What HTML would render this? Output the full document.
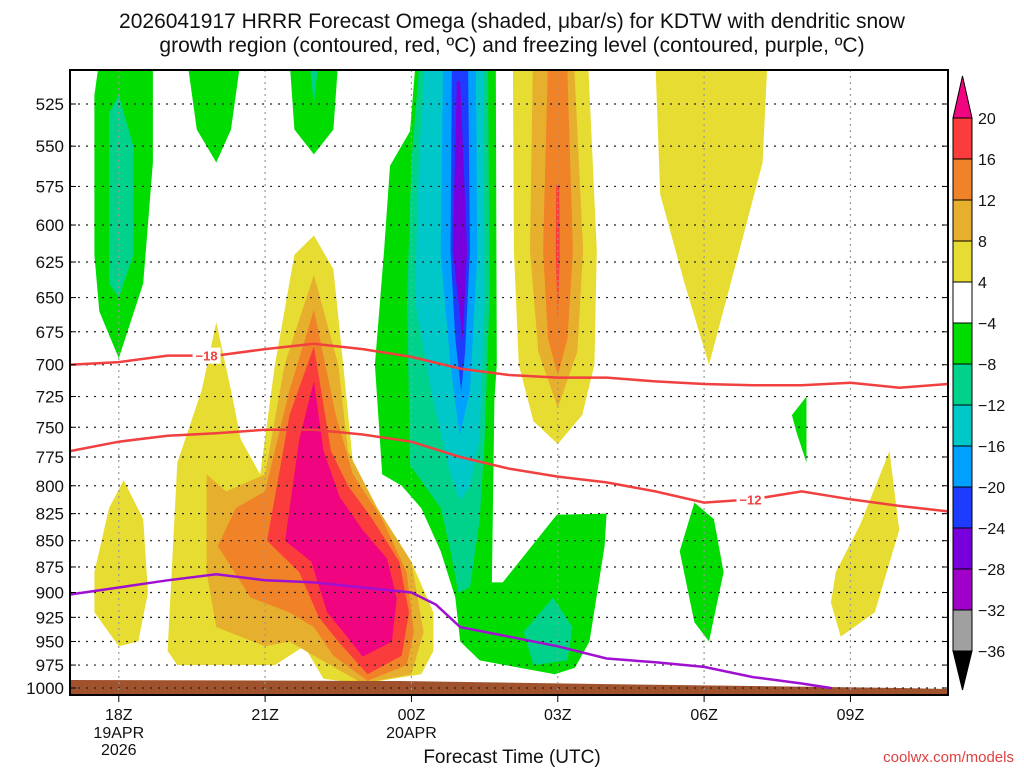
<!DOCTYPE html>
<html><head><meta charset="utf-8"><style>
body{margin:0;background:#fff;width:1024px;height:768px;overflow:hidden;font-family:"Liberation Sans",sans-serif}
svg text{font-family:"Liberation Sans","DejaVu Sans",sans-serif}
</style></head><body>
<svg id="chart" width="1024" height="768" xmlns="http://www.w3.org/2000/svg">
<g>
<text x="512" y="28" font-size="21" text-anchor="middle" fill="#111">2026041917 HRRR Forecast Omega (shaded, μbar/s) for KDTW with dendritic snow</text>
<text x="512" y="52" font-size="21" text-anchor="middle" fill="#111">growth region (contoured, red, ºC) and freezing level (contoured, purple, ºC)</text>
</g>
<g id="fills"></g>
<g id="grid"></g>
<g id="lines"></g>
<g id="axes"></g>
<g id="cbar"></g>
<text x="512" y="763" font-size="19" text-anchor="middle" fill="#111">Forecast Time (UTC)</text>
<text x="1014" y="762" font-size="15" text-anchor="end" fill="#e04040">coolwx.com/models</text>
</svg>
<script>
const pLevels=[525,550,575,600,625,650,675,700,725,750,775,800,825,850,875,900,925,950,975,1000];
const xTickHours=[18,21,24,27,30,33];
const xTickLabels=["18Z","21Z","00Z","03Z","06Z","09Z"];
const cbLevels=[20,16,12,8,4,-4,-8,-12,-16,-20,-24,-28,-32,-36];
const cbColors=["#f0047f","#fa3c3c","#f08228","#e6af2d","#e6dc32","#ffffff","#00dc00","#00d28c","#00c8c8","#00a0ff","#1e3cff","#7800dc","#a000c8","#a0a0a0","#000000"];
const tHours=[17,18,19,20,21,22,23,24,25,26,27,28,29,30,31,32,33,34,35];
const tMinus18=[700,698,693,693,688,684,688,694,703,708,710,710,713,715,716,716,714,718,715];
const tMinus12=[770,762,757,755,752,752,756,762,775,785,792,797,805,815,812,805,812,818,823];
const fzHours=[17,18,19,20,21,22,23,24,24.5,25,26,27,28,29,30,31,32,32.6];
const fzLevel=[902,895,888,882,888,890,895,900,912,935,945,955,968,972,977,988,995,1000];
// omega regions: [colorIndex, [[hour,hPa],...]]
const omegaRegions=[
[4,[[19.0,960],[19.2,780],[19.7,720],[20.0,668],[20.3,720],[20.5,760],[20.9,790],[21.2,700],[21.6,620],[22.0,607],[22.4,630],[22.6,700],[22.8,780],[23.3,820],[24.0,870],[24.45,920],[24.45,960],[24.2,985],[23.0,995],[22.2,990],[21.8,955],[21.2,975],[20.0,975],[19.2,975]]],
[4,[[17.5,880],[17.8,820],[18.1,795],[18.5,830],[18.6,900],[18.4,950],[18.0,955],[17.5,920]]],
[3,[[22.0,634],[22.5,700],[22.7,770],[23.3,820],[24.0,870],[24.25,940],[24.0,985],[23.0,995],[22.0,965],[21.5,950],[21.0,955],[20.0,935],[19.8,880],[19.8,790],[20.2,805],[21.0,790],[21.4,700]]],
[2,[[22.0,659],[22.45,740],[22.8,790],[23.4,830],[23.9,880],[24.05,940],[23.9,975],[23.1,992],[22.4,965],[22.0,935],[21.5,920],[20.7,905],[20.03,855],[20.4,820],[21.0,805],[21.5,720]]],
[1,[[22.0,686],[22.35,770],[22.7,800],[23.2,830],[23.75,870],[23.95,920],[23.8,965],[23.1,985],[22.5,950],[22.1,925],[21.7,880],[21.04,850],[21.5,740]]],
[0,[[22.0,713],[22.2,770],[22.53,810],[23.0,840],[23.5,867],[23.7,906],[23.6,950],[23.0,966],[22.6,940],[22.27,920],[21.95,870],[21.41,850],[21.7,760]]],
[6,[[23.4,790],[23.25,700],[23.44,617],[23.56,562],[23.97,541],[24.09,500],[25.73,500],[25.75,700],[25.7,728],[25.65,890],[25.87,890],[26.98,826],[28.0,825],[27.96,855],[27.65,950],[27.35,978],[26.94,985],[25.4,970],[25.0,950],[24.9,905],[24.6,860],[24.2,820],[23.8,800]]],
[7,[[24.17,500],[25.57,500],[25.6,650],[25.5,760],[25.4,830],[25.2,895],[24.96,900],[24.8,860],[24.6,820],[23.97,782],[23.91,652],[24.0,560]]],
[8,[[24.28,500],[25.47,500],[25.5,650],[25.4,760],[25.2,800],[25.0,813],[24.8,790],[24.4,720],[24.07,652],[24.15,560]]],
[9,[[24.65,500],[25.32,500],[25.35,620],[25.2,720],[24.99,757],[24.8,700],[24.6,620]]],
[10,[[24.83,500],[25.16,500],[25.2,617],[25.1,690],[25.02,721],[24.9,680],[24.8,617]]],
[11,[[24.93,512],[25.0,512],[25.14,617],[25.05,682],[24.85,617]]],
[6,[[17.5,620],[17.5,520],[17.6,500],[18.7,500],[18.7,560],[18.5,640],[18.0,695],[17.6,660]]],
[7,[[17.8,640],[17.8,530],[18.0,520],[18.3,550],[18.3,620],[18.0,650]]],
[6,[[19.4,500],[20.5,500],[20.3,540],[20.0,560],[19.6,540]]],
[6,[[21.5,500],[22.5,500],[22.4,540],[22.0,555],[21.6,540]]],
[7,[[21.9,500],[22.1,500],[22.0,525]]],
[4,[[26.08,500],[27.62,500],[27.8,617],[27.75,700],[27.5,740],[27.0,764],[26.5,745],[26.2,700],[26.1,617]]],
[3,[[26.49,500],[27.33,500],[27.52,617],[27.4,690],[27.0,734],[26.6,690],[26.43,617]]],
[2,[[26.8,500],[27.19,500],[27.31,617],[27.2,680],[27.0,708],[26.8,680],[26.7,617]]],
[1,[[26.97,574],[27.03,574],[27.04,620],[27.0,666],[26.96,620]]],
[4,[[29.0,500],[31.3,500],[31.2,560],[30.7,620],[30.1,700],[29.6,640],[29.1,580]]],
[6,[[29.5,860],[29.8,815],[30.2,830],[30.4,880],[30.1,950],[29.8,930]]],
[6,[[31.8,740],[32.1,725],[32.1,780],[31.9,755]]],
[4,[[32.7,880],[33.2,835],[33.8,770],[34.0,840],[33.5,920],[32.8,945],[32.6,910]]],
[7,[[26.3,940],[26.9,905],[27.3,935],[27.2,970],[26.5,975]]]
];
const X0=70,X1=948,Y0=70,Y1=695,H0=17,H1=35;
const xs=h=>X0+(h-H0)/(H1-H0)*(X1-X0);
const ys=p=>104+(Math.log(p)-Math.log(525))/(Math.log(1000)-Math.log(525))*584;
const NS="http://www.w3.org/2000/svg";
function mk(tag,attrs,parent){const e=document.createElementNS(NS,tag);for(const k in attrs)e.setAttribute(k,attrs[k]);parent.appendChild(e);return e;}
const fills=document.getElementById('fills');
const clip=mk('clipPath',{id:'pc'},mk('defs',{},document.getElementById('chart')));
mk('rect',{x:X0,y:Y0,width:X1-X0,height:Y1-Y0},clip);
fills.setAttribute('clip-path','url(#pc)');
omegaRegions.forEach(r=>{
 const pts=r[1].map(q=>xs(q[0]).toFixed(1)+','+ys(q[1]).toFixed(1)).join(' ');
 const el=mk('polygon',{points:pts,fill:cbColors[r[0]],'stroke-linejoin':'round'},fills);
 
 
});
const g=mk('polygon',{points:`${X0},${Y1} ${X0},680 400,681 600,684 900,688 ${X1},689 ${X1},${Y1}`,fill:'#a0522d'},fills);


const grid=document.getElementById('grid');
pLevels.forEach(p=>{const l=mk('line',{x1:X0,x2:X1,y1:ys(p),y2:ys(p),stroke:'#222','stroke-width':1.2,'stroke-dasharray':'2,6'},grid);

});
xTickHours.forEach(h=>{const l=mk('line',{x1:xs(h),x2:xs(h),y1:Y0,y2:Y1,stroke:'#999','stroke-width':1.2,'stroke-dasharray':'2,4'},grid);

});
const lines=document.getElementById('lines');
function poly(hh,pp,col,name){const pts=hh.map((h,i)=>xs(h).toFixed(1)+','+ys(pp[i]).toFixed(1)).join(' ');
const e=mk('polyline',{points:pts,fill:'none',stroke:col,'stroke-width':2.5},lines);

}
poly(tHours,tMinus18,'#f04040','contour-minus18');
poly(tHours,tMinus12,'#f04040','contour-minus12');
poly(fzHours,fzLevel,'#a010d0','freezing-level');
function lab(h,p,t){mk('rect',{x:xs(h)-14,y:ys(p)-8,width:28,height:16,fill:'#fff'},lines);
const e=mk('text',{x:xs(h),y:ys(p)+5,'font-size':13,'font-weight':'bold','text-anchor':'middle',fill:'#f04040'},lines);e.textContent=t;

}
lab(19.8,693,'−18');lab(30.95,812,'−12');
const ax=document.getElementById('axes');
mk('rect',{x:X0,y:Y0,width:X1-X0,height:Y1-Y0,fill:'none',stroke:'#000','stroke-width':2},ax);
pLevels.forEach(p=>{mk('line',{x1:X0,x2:X0+6,y1:ys(p),y2:ys(p),stroke:'#000'},ax);mk('line',{x1:X1-6,x2:X1,y1:ys(p),y2:ys(p),stroke:'#000'},ax);
const t=mk('text',{x:64,y:ys(p)+6,'font-size':17,'text-anchor':'end',fill:'#111'},ax);t.textContent=p;

});
xTickHours.forEach((h,i)=>{mk('line',{x1:xs(h),x2:xs(h),y1:Y1,y2:Y1+7,stroke:'#000'},ax);
const t=mk('text',{x:xs(h),y:720,'font-size':16,'text-anchor':'middle',fill:'#111'},ax);t.textContent=xTickLabels[i];

});
[[18,738,'19APR'],[18,755,'2026'],[24,738,'20APR']].forEach(a=>{const t=mk('text',{x:xs(a[0]),y:a[1],'font-size':16,'text-anchor':'middle',fill:'#111'},ax);t.textContent=a[2];

});
const cb=document.getElementById('cbar');
const cx=953,cw=19,ctop=118,step=41;
mk('polygon',{points:`${cx},${ctop} ${cx+cw},${ctop} ${cx+cw/2},76`,fill:cbColors[0],stroke:'#000'},cb);
for(let i=1;i<cbColors.length-1;i++){mk('rect',{x:cx,y:ctop+(i-1)*step,width:cw,height:step,fill:cbColors[i],stroke:'#000'},cb);}
const cbot=ctop+(cbColors.length-2)*step;
mk('polygon',{points:`${cx},${cbot} ${cx+cw},${cbot} ${cx+cw/2},690`,fill:'#000',stroke:'#000'},cb);
cbLevels.forEach((v,i)=>{const t=mk('text',{x:978,y:ctop+i*step+6,'font-size':16,fill:'#111'},cb);t.textContent=v<0?'−'+(-v):v;

});
</script>
</body></html>
